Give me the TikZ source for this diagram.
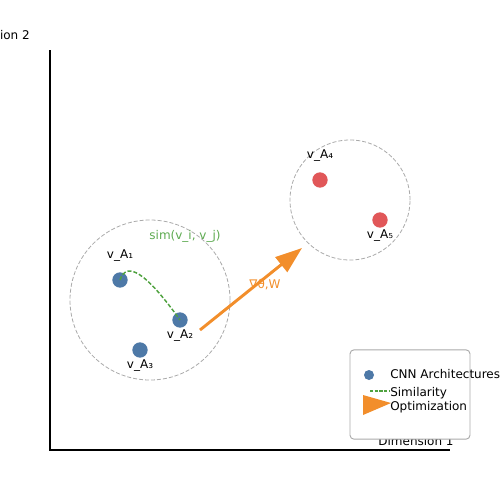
\documentclass[tikz,border=0pt]{standalone}
\usepackage{fontspec}
\setmainfont{DejaVu Sans}
\usetikzlibrary{arrows.meta}
\definecolor{tblue}{HTML}{4E79A7}
\definecolor{tred}{HTML}{E15759}
\definecolor{torange}{HTML}{F28E2B}
\definecolor{tgreen}{HTML}{4FA23F}
\definecolor{lgreen}{HTML}{5DAA50}
\definecolor{cgray}{HTML}{AAAAAA}
\begin{document}
\begin{tikzpicture}[x=0.75pt,y=-0.75pt,
  txt/.style={font=\fontsize{9}{10.8}\selectfont,inner sep=0pt},
  pt/.style={circle,inner sep=0pt,minimum size=11.5pt,fill=#1},
  clus/.style={draw=cgray,dashed,dash pattern=on 3pt off 1.5pt,line width=0.6pt},
  axis/.style={line width=1.2pt,black}]
\useasboundingbox (0,0) rectangle (500,500);
% axes
\coordinate (o) at (50,450);
\coordinate (ytop) at (50,50);
\coordinate (xend) at (450,450);
\draw[axis] (ytop) -- (o) -- (xend);
\node[txt,anchor=east] (ylab) at (30,35) {Dimension 2};
\node[txt] (xlab) at (416,441) {Dimension 1};
% clusters
\node[clus,circle,minimum size=120pt,inner sep=0pt] (c1) at (150,300) {};
\node[clus,circle,minimum size=90pt,inner sep=0pt] (c2) at (350,200) {};
% points
\node[pt=tblue] (a1) at (120,280) {};
\node[pt=tblue] (a2) at (180,320) {};
\node[pt=tblue] (a3) at (140,350) {};
\node[pt=tred] (a4) at (320,180) {};
\node[pt=tred] (a5) at (380,220) {};
\node[txt] (l1) at (120,256) {v\_A₁};
\node[txt] (l2) at (180,336) {v\_A₂};
\node[txt] (l3) at (140,366) {v\_A₃};
\node[txt] (l4) at (320,156) {v\_A₄};
\node[txt] (l5) at (380,236) {v\_A₅};
% similarity
\draw[tgreen,line width=1.1pt,dash pattern=on 3pt off 1.5pt] (a1.center) .. controls (126.7,260) and (146.7,273.3) .. (a2.center);
\node[txt,text=lgreen] (simlab) at (185,236) {sim(v\_i, v\_j)};
% gradient
\node[txt,text=torange] (glab) at (265,285) {∇θ,W};
\coordinate (gs) at (200,330);
\coordinate (ge) at (302,248);
\draw[torange,line width=2.2pt,-{Triangle[length=20pt,width=14pt]}] (gs) -- (ge);
% legend
\node[draw=cgray,fill=white,rounded corners=3pt,line width=0.7pt,minimum width=90pt,minimum height=67pt,inner sep=0pt] (leg) at (410,394.5) {};
\node[circle,inner sep=0pt,minimum size=7.5pt,fill=tblue] (legdot) at (369,375) {};
\coordinate (lgs) at (370,391);
\coordinate (lge) at (390,391);
\draw[tgreen,line width=1pt,dash pattern=on 2.5pt off 1pt] (lgs) -- (lge);
\coordinate (lt1) at (363,395);
\coordinate (lt2) at (391,403);
\coordinate (lt3) at (363,415);
\fill[torange] (lt1) -- (lt2) -- (lt3) -- cycle;
\node[txt,anchor=west] (lg1) at (390,374) {CNN Architectures};
\node[txt,anchor=west] (lg2) at (390,393) {Similarity};
\node[txt,anchor=west] (lg3) at (390,407) {Optimization};
\end{tikzpicture}
\end{document}
